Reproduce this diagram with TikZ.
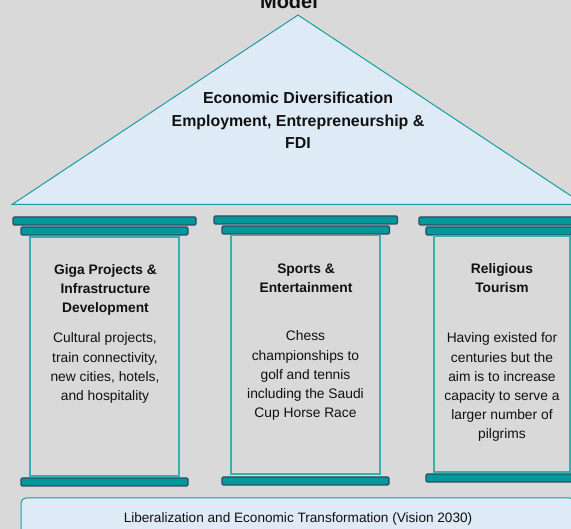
\documentclass[tikz,border=0pt]{standalone}
\usepackage{fontspec}
\setmainfont{Liberation Sans}
\definecolor{bg}{HTML}{D9D9D9}
\definecolor{lightblue}{HTML}{DEEAF6}
\definecolor{tealline}{HTML}{1A9E9E}
\definecolor{barfill}{HTML}{009999}
\definecolor{barline}{HTML}{2F4A68}
\definecolor{colline}{HTML}{3AAFAF}
\definecolor{ink}{HTML}{111111}
\begin{document}
\begin{tikzpicture}[x=1pt,y=-1pt,
  bar/.style={fill=barfill,draw=barline,line width=1.1pt,rounded corners=1.2pt},
  colbox/.style={draw=colline,line width=1.1pt},
  title/.style={anchor=base,align=center,inner sep=0pt,text=ink,font=\fontsize{13.8}{19}\selectfont\bfseries},
  body/.style={anchor=base,align=center,inner sep=0pt,text=ink,font=\fontsize{13.8}{19.1}\selectfont},
]
\useasboundingbox (0,0) rectangle (571,529);
\clip (0,0) rectangle (571,529);
\fill[bg] (0,0) rectangle (571,529);
% title remnant
\node[anchor=base,inner sep=0pt,text=ink,font=\fontsize{20}{24}\selectfont\bfseries] (model) at (289,8.5) {Model};
% roof
\draw[fill=lightblue,draw=tealline,line width=1pt] (298,15) -- (584,204.5) -- (12,204.5) -- cycle;
\node[anchor=base,align=center,inner sep=0pt,text=ink,font=\fontsize{15.9}{22.5}\selectfont\bfseries] (roof) at (298,149)
  {Economic Diversification\\Employment, Entrepreneurship \&\\FDI};
% column 1
\draw[bar] (13,217) rectangle (196,225);
\draw[bar] (21,227) rectangle (188,235);
\draw[colbox] (30,237) rectangle (179,476);
\draw[bar] (21,478) rectangle (188,486);
\node[title] (t1) at (105.5,313) {Giga Projects \&\\Infrastructure\\Development};
\node[body] (b1) at (105,400.3) {Cultural projects,\\train connectivity,\\new cities, hotels,\\and hospitality};
% column 2
\draw[bar] (214,216) rectangle (397.5,224);
\draw[bar] (222,226) rectangle (389.5,234);
\draw[colbox] (231,235.5) rectangle (380,474);
\draw[bar] (222,477) rectangle (389,485);
\node[title] (t2) at (306,293) {Sports \&\\Entertainment};
\node[body] (b2) at (305.5,417.4) {Chess\\championships to\\golf and tennis\\including the Saudi\\Cup Horse Race};
% column 3
\draw[bar] (419,217) rectangle (602,225);
\draw[bar] (426,227) rectangle (595,235);
\draw[colbox] (434,236) rectangle (570,472);
\draw[bar] (426,474) rectangle (595,482);
\node[title] (t3) at (502,293) {Religious\\Tourism};
\node[body] (b3) at (502,438.5) {Having existed for\\centuries but the\\aim is to increase\\capacity to serve a\\larger number of\\pilgrims};
% foundation
\draw[fill=lightblue,draw=tealline,line width=1pt,rounded corners=5pt] (21,498) rectangle (575,550);
\node[anchor=base,inner sep=0pt,text=ink,font=\fontsize{13.6}{16}\selectfont] (found) at (298,523)
  {Liberalization and Economic Transformation (Vision 2030)};
\end{tikzpicture}
\end{document}
